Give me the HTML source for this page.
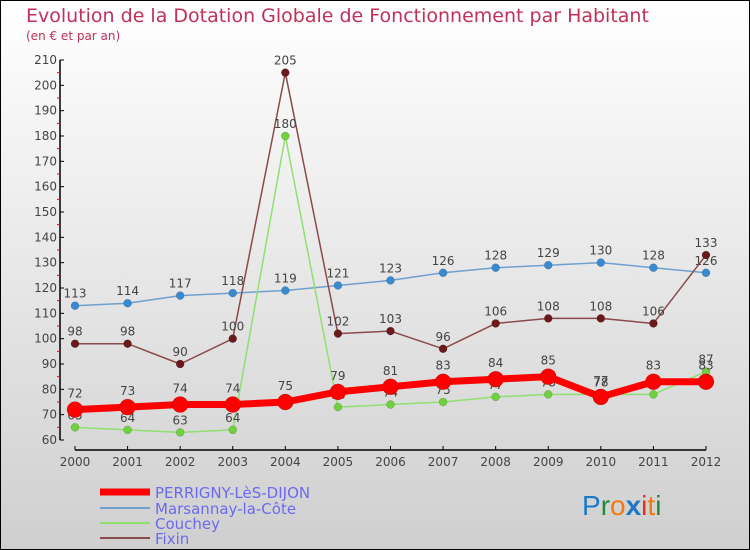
<!DOCTYPE html>
<html><head><meta charset="utf-8"><style>
body{margin:0}
svg{display:block;font-family:"DejaVu Sans","Liberation Sans",sans-serif}
</style></head><body>
<svg id="c" width="750" height="550" xmlns="http://www.w3.org/2000/svg">
<defs><linearGradient id="bg" x1="0" y1="0" x2="0" y2="1"><stop offset="0" stop-color="#ffffff"/><stop offset="1" stop-color="#cfcfcf"/></linearGradient></defs>
<rect x="0.5" y="0.5" width="749" height="549" fill="url(#bg)" stroke="#000"/>
<text x="26" y="22" font-size="19" fill="#c0305a">Evolution de la Dotation Globale de Fonctionnement par Habitant</text>
<text x="26" y="40" font-size="12" fill="#c0305a">(en € et par an)</text>
<g id="axes"></g><g id="series"></g>
<g>
<line x1="100" y1="492" x2="150" y2="492" stroke="#f00" stroke-width="7"/>
<text x="155" y="498" font-size="15" fill="#6a6af0">PERRIGNY-LèS-DIJON</text>
<line x1="100" y1="508" x2="150" y2="508" stroke="#6fa0d0" stroke-width="2"/>
<text x="155" y="514" font-size="15" fill="#6a6af0">Marsannay-la-Côte</text>
<line x1="100" y1="523" x2="150" y2="523" stroke="#90e070" stroke-width="2"/>
<text x="155" y="529" font-size="15" fill="#6a6af0">Couchey</text>
<line x1="100" y1="538" x2="150" y2="538" stroke="#8a4a4a" stroke-width="2"/>
<text x="155" y="544" font-size="15" fill="#6a6af0">Fixin</text>
</g>
<g font-size="28" font-family="'Liberation Sans',sans-serif">
<text x="582" y="515"><tspan fill="#1e78c8">P</tspan><tspan fill="#1e8a3a">r</tspan><tspan fill="#f07a10">o</tspan><tspan fill="#1e78c8" font-weight="bold">x</tspan><tspan fill="#e03020">i</tspan><tspan fill="#f07a10">t</tspan><tspan fill="#1e8a3a">i</tspan></text>
</g>
</svg>
<script>
const years=[2000,2001,2002,2003,2004,2005,2006,2007,2008,2009,2010,2011,2012];
const perrigny=[72,73,74,74,75,79,81,83,84,85,77,83,83];
const marsannay=[113,114,117,118,119,121,123,126,128,129,130,128,126];
const couchey=[65,64,63,64,180,73,74,75,77,78,78,78,87];
const fixin=[98,98,90,100,205,102,103,96,106,108,108,106,133];
const yTicks=[60,70,80,90,100,110,120,130,140,150,160,170,180,190,200,210];
const NS="http://www.w3.org/2000/svg";
const X=i=>75+i*(706-75)/(years.length-1);
const Y=v=>440-(v-60)*(380/150);
function mk(t,a,p){const e=document.createElementNS(NS,t);for(const k in a)e.setAttribute(k,a[k]);p.appendChild(e);return e;}
const ax=document.getElementById('axes');
const yl=mk('line',{x1:60,y1:Y(210),x2:60,y2:Y(60),stroke:'#000','stroke-width':1.5},ax);


const xl=mk('line',{x1:X(0),y1:450,x2:X(12),y2:450,stroke:'#000','stroke-width':1.5},ax);


yTicks.forEach(v=>{
 mk('line',{x1:60,y1:Y(v),x2:64,y2:Y(v),stroke:'#000'},ax);
 if(v<210) mk('line',{x1:57,y1:Y(v+5),x2:60,y2:Y(v+5),stroke:'#f00'},ax);
 const t=mk('text',{x:57,y:Y(v)+4,'text-anchor':'end','font-size':12,fill:'#444'},ax);t.textContent=v;
 
 
});
years.forEach((y,i)=>{
 mk('line',{x1:X(i),y1:446,x2:X(i),y2:450,stroke:'#000'},ax);
 const t=mk('text',{x:X(i),y:466,'text-anchor':'middle','font-size':12,fill:'#444'},ax);t.textContent=y;
 
 
});
const sg=document.getElementById('series');
function series(name,data,color,w,r,pc,lo){
 const g=mk('g',{},sg);
 
 
 mk('polyline',{points:data.map((v,i)=>X(i)+','+Y(v)).join(' '),fill:'none',stroke:color,'stroke-width':w,'stroke-linejoin':'round'},g);
 data.forEach((v,i)=>{
  const c=mk('circle',{cx:X(i),cy:Y(v),r:r,fill:pc,stroke:'rgba(0,0,0,0.25)','stroke-width':0.5},g);
  
  
  const t=mk('text',{x:X(i),y:Y(v)-(lo||8),'text-anchor':'middle','font-size':12,fill:'#444'},g);t.textContent=v;
  
  
 });
}
series('marsannay',marsannay,'#6fa0d0',1.5,4,'#3a8ad0',8);
series('fixin',fixin,'#8a4a4a',1.5,4,'#6a1a1a',8);
series('couchey',couchey,'#90e070',1.5,4,'#70d040',8);
series('perrigny',perrigny,'#f00',7,8,'#f00',12);
</script>
</body></html>
